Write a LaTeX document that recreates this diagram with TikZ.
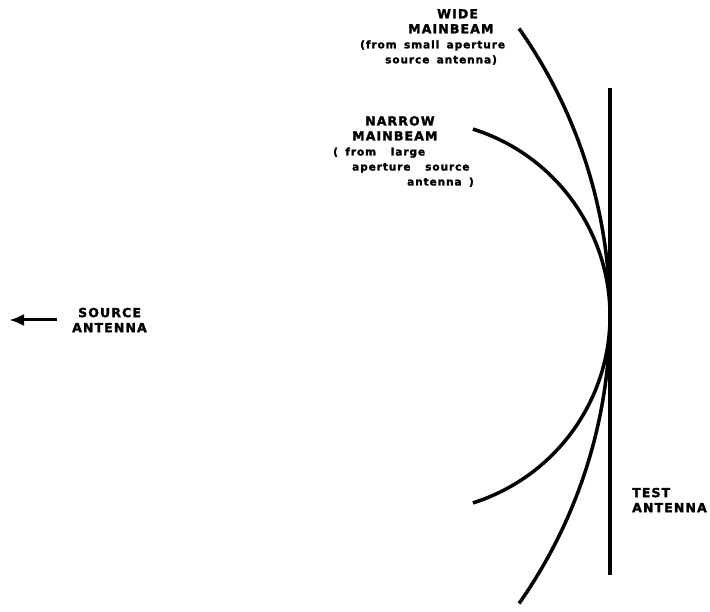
\documentclass[tikz,border=0pt]{standalone}
\usepackage{fontspec}
\newfontfamily\lettering[LetterSpace=9,WordSpace=1.6,BoldFeatures={FakeBold=2}]{DejaVu Sans}
\usetikzlibrary{arrows.meta}
\tikzset{beam/.style={line width=3.5pt},
         caption/.style={font=\lettering\bfseries\fontsize{12.5}{15}\selectfont,inner sep=0pt}}
\newcommand{\low}[1]{{\fontsize{10.5}{15}\selectfont #1}}

\begin{document}
\begin{tikzpicture}[x=1pt,y=-1pt]
  \useasboundingbox (0,0) rectangle (710,612);
  % test antenna
  \coordinate (ttop) at (610,88);
  \coordinate (tbot) at (610,575);
  \draw[beam] (ttop) -- (tbot);
  % wavefronts of the two main beams
  \foreach \name/\r/\a in {wide/500/35.1,
                           narrow/196/72.5}
    {\coordinate (\name) at (610-\r,316);
     \draw[beam] ([shift={(\a:\r pt)}]\name) arc[start angle=\a,end angle=-\a,radius=\r pt];}
  % labels
  \node[caption,align=left,anchor=north west] (widelbl) at (360,9)
    {\hspace*{77pt}WIDE\\\hspace*{48pt}MAINBEAM\\\low{(from small aperture}\\
     \hspace*{25pt}\low{source antenna)}};
  \node[caption,align=left,anchor=north west] (narrowlbl) at (333,116)
    {\hspace*{32pt}NARROW\\\hspace*{19pt}MAINBEAM\\\low{(\ from\ \ large}\\
     \hspace*{19pt}\low{aperture\ \ source}\\\hspace*{74pt}\low{antenna )}};
  \node[caption,align=left,anchor=west] (src) at (72,320) {\hspace*{6pt}SOURCE\\ANTENNA};
  \node[caption,align=left,anchor=west] (test) at (632,500) {TEST\\ANTENNA};
  \coordinate (srctip) at (9,322);
  \draw[line width=3pt,-{Latex[length=15pt,width=12pt]}] ([xshift=-15pt]src.west) -- (srctip |- src.west);
\end{tikzpicture}
\end{document}
